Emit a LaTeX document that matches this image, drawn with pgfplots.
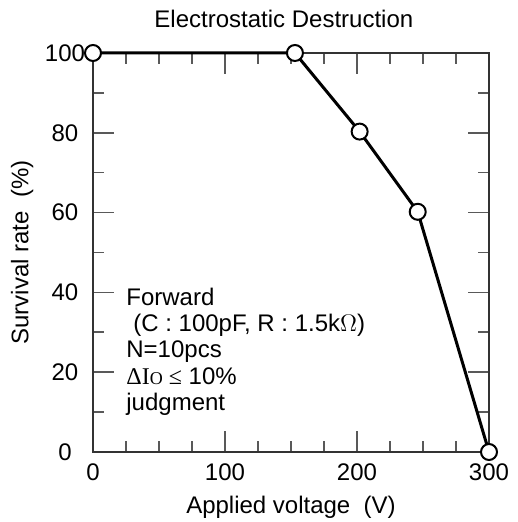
\documentclass[border=0pt]{standalone}
\usepackage{fontspec}
\setmainfont{Liberation Sans}
\newfontfamily\serif{Liberation Serif}
\usepackage{pgfplots}
\pgfplotsset{compat=1.18}

\begin{document}
\begin{tikzpicture}
\fontsize{12}{14}\selectfont
\begin{axis}[
scale only axis,
width=198pt,height=199.5pt,
xmin=0,xmax=300,
ymin=0,ymax=100,
xtick={0,100,200,300},
ytick={0,20,40,60,80,100},
minor x tick num=3,
minor y tick num=1,
tick align=inside,
major tick length=10.5pt,
minor tick length=5.5pt,
axis line style={black!80,line width=1pt},
every tick/.style={black!65,line width=0.8pt},
/pgf/number format/assume math mode=true,
ticklabel style={font=\fontsize{12}{14}\selectfont},
xticklabel style={anchor=center,yshift=-10pt},
yticklabel style={anchor=center,xshift=-14pt},
every axis title shift=0pt,
title={Electrostatic Destruction},
title style={at={(0.482,1)},anchor=base,yshift=12.5pt,inner sep=0pt,font=\fontsize{12}{14}\selectfont},
xlabel={Applied voltage\ \ (V)},
xlabel style={at={(axis description cs:0.5,0)},anchor=base,yshift=-30.5pt,inner sep=0pt,font=\fontsize{12}{14}\selectfont},
ylabel={Survival rate\ \ (\%)},
ylabel style={at={(axis description cs:-0.179,0.5)},anchor=center,inner sep=0pt,font=\fontsize{12}{14}\selectfont},
clip=false,
]

\addplot[color=black,line width=1.5pt,mark=*,
  mark size=4pt,mark options={fill=white,draw=black,line width=1pt}]
coordinates {
(0,   100)
(153, 100)
(202, 80.3)
(246, 60.2)
(300, 0)
};

\node[anchor=base west,inner sep=0pt] at (axis cs:25,36.6) {Forward};
\node[anchor=base west,inner sep=0pt] at (axis cs:25,30.1) {\hspace{3.5pt}(C : 100pF, R : 1.5k$\Omega$)};
\node[anchor=base west,inner sep=0pt] at (axis cs:25,23.8) {N=10pcs};
\node[anchor=base west,inner sep=0pt] at (axis cs:25,16.8) {{\serif ΔI{\fontsize{9}{10}\selectfont O} ≤} 10\%};
\node[anchor=base west,inner sep=0pt] at (axis cs:25,10.3) {judgment};
\end{axis}
\path (current axis.south west) ++(-46.5pt,-35pt) coordinate (bl);
\path (current axis.north east) ++(11pt,26.5pt) coordinate (tr);
\path (bl) rectangle (tr);
\end{tikzpicture}
\end{document}
